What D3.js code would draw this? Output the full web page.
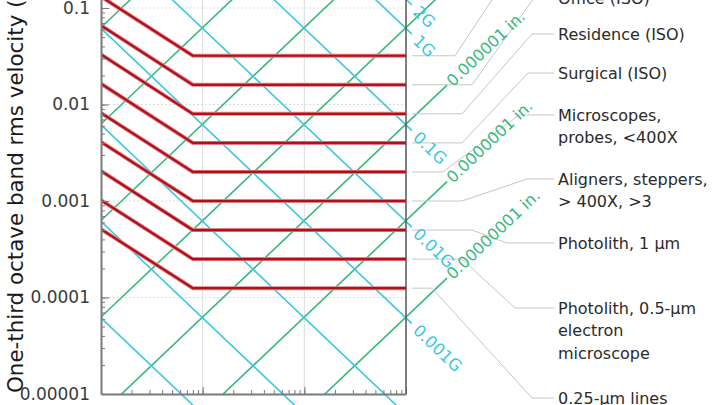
<!DOCTYPE html>
<html>
<head>
<meta charset="utf-8">
<script src="https://cdn.jsdelivr.net/npm/d3@7"></script>
<style>
body { margin: 0; background: #fff; }
svg { display: block; font-family: "DejaVu Sans", sans-serif; }
</style>
</head>
<body>
<script>
const width = 720,
      height = 405;

// vibration criteria, rms velocity in in./s: plateau from 8 Hz up, value read at 1 Hz
const criteriaNames = [
    "Workshop (ISO)",
    "Office (ISO)",
    "Residence (ISO)",
    "Surgical (ISO)",
    "Microscopes,\nprobes, <400X",
    "Aligners, steppers,\n> 400X, >3",
    "Photolith, 1 \u00b5m",
    "Photolith, 0.5-\u00b5m\nelectron\nmicroscope",
    "0.25-\u00b5m lines"
];
const criteriaFlat = [0.032, 0.016, 0.008, 0.004, 0.002, 0.001, 0.0005, 0.00025, 0.000125];
const criteriaAt1Hz = [0.131, 0.066, 0.033, 0.0164, 0.0082, 0.0041, 0.00205, 0.00102, 0.00051];
const kneeFreq = 8;
const endFreq = 1000;

// constant displacement lines (green), velocity at 1 Hz and at 1000 Hz
const dispLabels = ["", "", "", "0.00001 in.", "0.000001 in.", "0.0000001 in.", "0.00000001 in."];
const dispAt1Hz = [0.0628, 0.00628, 0.000628, 0.0000628, 0.00000628, 0.000000628, 0.0000000628];
const dispAt1000Hz = [62.8, 6.28, 0.628, 0.0628, 0.00628, 0.000628, 0.0000628];

// constant acceleration lines (cyan), velocity at 1 Hz and at 1000 Hz
const accelLabels = ["2G", "1G", "0.1G", "0.01G", "0.001G", "", "", ""];
const accelAt1Hz = [123, 61.4, 6.14, 0.614, 0.0614, 0.00614, 0.000614, 0.0000614];
const accelAt1000Hz = [0.123, 0.0614, 0.00614, 0.000614, 0.0000614, 0.00000614, 0.000000614, 0.0000000614];

const yTickValues = [0.1, 0.01, 0.001, 0.0001, 0.00001];
const yTickLabels = ["0.1", "0.01", "0.001", "0.0001", "0.00001"];
const xMajor = [1, 10, 100, 1000];

// leader line layout for the criteria labels (pixels)
const leaderLayout = [
    {bend1: 455, bend2: 517, labelY: -38},
    {bend1: 472, bend2: 534, labelY: -2},
    {bend1: 462, bend2: 532, labelY: 34},
    {bend1: 462, bend2: 528, labelY: 73},
    {bend1: 443, bend2: 519, labelY: 115},
    {bend1: 462, bend2: 527, labelY: 179},
    {bend1: 472, bend2: 507, labelY: 243},
    {bend1: 462, bend2: 515, labelY: 308},
    {bend1: 432, bend2: 532, labelY: 398}
];

const plotLeft = 101, plotRight = 406, plotBottom = 394;

const x = d3.scaleLog().domain([1, 1000]).range([plotLeft, plotRight]);
const y = d3.scaleLog().domain([0.00001, 1]).range([plotBottom, plotBottom - 5 * 96.5]);

const red = "#b01018", green = "#38b87a", cyan = "#3cc7e2";

const svg = d3.select("body").append("svg")
    .attr("width", width)
    .attr("height", height);

const defs = svg.append("defs");
function clip(id, x0, y0, x1, y1) {
    defs.append("clipPath").attr("id", id)
      .append("rect").attr("x", x0).attr("y", y0).attr("width", x1 - x0).attr("height", y1 - y0);
}
clip("plot", plotLeft, -120, plotRight, plotBottom);
clip("green-clip", plotLeft, -120, 470, plotBottom);
clip("cyan-clip", plotLeft, -120, plotRight + 6, plotBottom + 14);

// grid
const minorY = [];
for (let e = -5; e < 0; e++) for (let m = 1; m < 10; m++) minorY.push(m * Math.pow(10, e));
const minorX = [];
for (let e = 0; e < 3; e++) for (let m = 1; m < 10; m++) minorX.push(m * Math.pow(10, e));
minorX.push(1000);

const grid = svg.append("g").attr("stroke", "#dcdcdc").attr("stroke-width", 1);
grid.selectAll(".gy").data(yTickValues.slice(0, 4)).enter().append("line")
    .attr("x1", plotLeft).attr("x2", plotRight)
    .attr("y1", d => y(d)).attr("y2", d => y(d))
    .attr("stroke-dasharray", "2,2");
grid.selectAll(".gx").data([10, 100]).enter().append("line")
    .attr("x1", d => x(d)).attr("x2", d => x(d))
    .attr("y1", -10).attr("y2", plotBottom);

// iso lines: pixel segment between 1 Hz and 1000 Hz, extended in pixel space
function seg(v1, v1000) {
    const p1 = [x(1), y(v1)], p2 = [x(1000), y(v1000)];
    const len = Math.hypot(p2[0] - p1[0], p2[1] - p1[1]);
    const u = [(p2[0] - p1[0]) / len, (p2[1] - p1[1]) / len];
    return {p1, p2, u};
}
function along(s, px) {
    const t = (px - s.p2[0]) / s.u[0];
    return [s.p2[0] + s.u[0] * t, s.p2[1] + s.u[1] * t];
}

const greenSegs = dispAt1Hz.map((v, i) => seg(v, dispAt1000Hz[i]));
svg.append("g").attr("clip-path", "url(#green-clip)")
  .selectAll("line").data(greenSegs).enter().append("line")
    .attr("x1", d => d.p1[0]).attr("y1", d => d.p1[1])
    .attr("x2", d => along(d, 447)[0]).attr("y2", d => along(d, 447)[1])
    .attr("stroke", green).attr("stroke-width", 1.6);

const cyanSegs = accelAt1Hz.map((v, i) => seg(v, accelAt1000Hz[i]));
svg.append("g").attr("clip-path", "url(#cyan-clip)")
  .selectAll("line").data(cyanSegs).enter().append("line")
    .attr("x1", d => d.p1[0]).attr("y1", d => d.p1[1])
    .attr("x2", d => along(d, 412)[0]).attr("y2", d => along(d, 412)[1])
    .attr("stroke", cyan).attr("stroke-width", 1.6);

// criteria curves
const curveLine = d3.line().x(d => x(d[0])).y(d => y(d[1]));
const curves = criteriaFlat.map((v, i) => [[1, criteriaAt1Hz[i]], [kneeFreq, v], [endFreq, v]]);
const curveG = svg.append("g").attr("clip-path", "url(#plot)").attr("fill", "none");
curveG.selectAll(".halo").data(curves).enter().append("path")
    .attr("d", curveLine).attr("stroke", "#e07f86").attr("stroke-width", 4);
curveG.selectAll(".core").data(curves).enter().append("path")
    .attr("d", curveLine).attr("stroke", red).attr("stroke-width", 2.2);

// leaders and criteria labels
const labelX = 558;
svg.append("g").attr("fill", "none").attr("stroke", "#c6c6c6").attr("stroke-width", 1)
  .selectAll("path").data(criteriaFlat).enter().append("path")
    .attr("d", (v, i) => {
        const l = leaderLayout[i], y0 = y(v);
        return `M${plotRight + 6},${y0}H${l.bend1}L${l.bend2},${l.labelY}H${labelX - 4}`;
    });

const labels = svg.append("g").attr("fill", "#2a2a2a").style("font-size", "16px");
criteriaNames.forEach((name, i) => {
    const t = labels.append("text").attr("x", labelX).attr("y", leaderLayout[i].labelY);
    name.split("\n").forEach((line, j) => {
        t.append("tspan").attr("x", labelX)
          .attr("dy", j === 0 ? "0.36em" : "22.5px")
          .text(line);
    });
});

// iso line labels
const angle = s => Math.atan2(s.u[1], s.u[0]) * 180 / Math.PI;
svg.append("g").attr("fill", green).style("font-size", "16px")
  .selectAll("text").data(greenSegs.map((s, i) => ({s, label: dispLabels[i]})).filter(d => d.label))
  .enter().append("text")
    .attr("transform", d => {
        const p = along(d.s, 449);
        return `translate(${p[0]},${p[1]}) rotate(${angle(d.s)})`;
    })
    .attr("dy", "0.36em")
    .text(d => d.label);

svg.append("g").attr("fill", cyan).style("font-size", "16.5px")
  .selectAll("text").data(cyanSegs.map((s, i) => ({s, label: accelLabels[i]})).filter(d => d.label))
  .enter().append("text")
    .attr("transform", d => {
        const p = along(d.s, 416);
        return `translate(${p[0]},${p[1]}) rotate(${angle(d.s)})`;
    })
    .attr("dy", "0.36em")
    .text(d => d.label);

// axes
const axisColor = "#7a7a7a";
const yAxis = svg.append("g").attr("transform", `translate(${plotLeft},0)`)
    .call(d3.axisLeft(y).tickValues(yTickValues).tickSize(-8).tickSizeOuter(0).tickPadding(11)
      .tickFormat((d, i) => yTickLabels[i]));
svg.append("g").attr("transform", `translate(${plotLeft},0)`)
    .call(d3.axisLeft(y).tickValues(minorY).tickSize(-4).tickSizeOuter(0).tickFormat(""))
    .call(g => g.select(".domain").remove());
yAxis.select(".domain").attr("stroke", axisColor).attr("stroke-width", 2);
svg.selectAll(".tick line").attr("stroke", axisColor);
yAxis.selectAll("text").attr("fill", "#3a3a3a").style("font-size", "17px")
    .style("font-family", "DejaVu Sans, sans-serif");

const xAxis = svg.append("g").attr("transform", `translate(0,${plotBottom})`)
    .call(d3.axisBottom(x).tickValues(xMajor).tickSize(-7).tickSizeOuter(0).tickFormat(""));
svg.append("g").attr("transform", `translate(0,${plotBottom})`)
    .call(d3.axisBottom(x).tickValues(minorX).tickSize(-4).tickSizeOuter(0).tickFormat(""))
    .call(g => g.select(".domain").remove())
    .selectAll(".tick line").attr("stroke", axisColor);
xAxis.select(".domain").attr("stroke", axisColor).attr("stroke-width", 2);
xAxis.selectAll(".tick line").attr("stroke", axisColor);

svg.append("line")
    .attr("x1", plotRight).attr("x2", plotRight)
    .attr("y1", -10).attr("y2", plotBottom)
    .attr("stroke", "#555").attr("stroke-width", 1.5);

// y title
svg.append("text")
    .attr("transform", `translate(23,${plotBottom - 1}) rotate(-90)`)
    .attr("fill", "#1a1a1a")
    .style("font-size", "21.4px")
    .text("One-third octave band rms velocity (in./s)");
</script>
</body>
</html>
